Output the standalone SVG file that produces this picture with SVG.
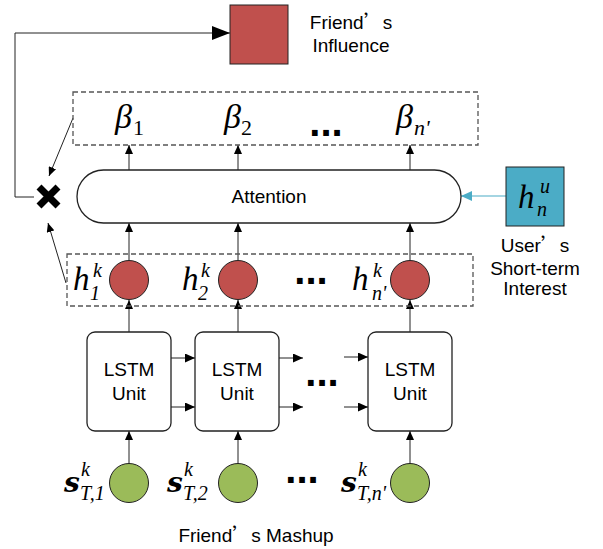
<svg xmlns="http://www.w3.org/2000/svg" width="603" height="549" viewBox="0 0 603 549">
<style>
.lbl{font-family:"Liberation Sans",Arial,sans-serif;font-size:19px;fill:#000;text-anchor:middle}
.cjk{font-family:"Noto Sans CJK SC",sans-serif}
.math{font-family:"Liberation Serif","Times New Roman",serif;font-style:italic;fill:#000}
.rm{font-style:normal}
.sb{font-family:"DejaVu Serif",serif;font-weight:bold;font-style:italic;font-size:28px}
.dash{fill:none;stroke:#555;stroke-width:1.3;stroke-dasharray:5 3}
.box{fill:#fff;stroke:#222;stroke-width:1.3}
.red{fill:#C0504D;stroke:#222;stroke-width:1}
.green{fill:#9BBB59;stroke:#222;stroke-width:1}
.teal{fill:#4BACC6;stroke:#222;stroke-width:1}
.conn{fill:none;stroke:#222;stroke-width:1}
.dots{font-family:"Liberation Sans",Arial,sans-serif;font-weight:bold;font-size:40px;text-anchor:middle;fill:#000}
</style>
<defs>
<marker id="ah" markerUnits="userSpaceOnUse" markerWidth="10" markerHeight="9" refX="10" refY="4.5" orient="auto"><path d="M0,0 L10,4.5 L0,9 z" fill="#000"/></marker>
<marker id="ahs" markerUnits="userSpaceOnUse" markerWidth="9" markerHeight="8" refX="9" refY="4" orient="auto"><path d="M0,0 L9,4 L0,8 z" fill="#000"/></marker>
<marker id="ahBig" markerUnits="userSpaceOnUse" markerWidth="18" markerHeight="14" refX="18" refY="7" orient="auto"><path d="M0,0 L18,7 L0,14 z" fill="#000"/></marker>
<marker id="ahTeal" markerUnits="userSpaceOnUse" markerWidth="11" markerHeight="10" refX="11" refY="5" orient="auto"><path d="M0,0 L11,5 L0,10 z" fill="#4BACC6"/></marker>
</defs>

<g id="connectors">
<path class="conn" d="M34,197 H15 V33 H230" marker-end="url(#ahBig)"/>
<path class="conn" d="M73,118 L49,176" marker-end="url(#ahs)"/>
<path class="conn" d="M66,283 L48,223" marker-end="url(#ahs)"/>
<path class="conn" d="M129,170 V145" marker-end="url(#ahs)"/>
<path class="conn" d="M238,170 V145" marker-end="url(#ahs)"/>
<path class="conn" d="M410,170 V145" marker-end="url(#ahs)"/>
<path class="conn" d="M129,260 V223" marker-end="url(#ahs)"/>
<path class="conn" d="M238,260 V223" marker-end="url(#ahs)"/>
<path class="conn" d="M410,260 V223" marker-end="url(#ahs)"/>
<path class="conn" d="M129,332 V300" marker-end="url(#ahs)"/>
<path class="conn" d="M238,332 V300" marker-end="url(#ahs)"/>
<path class="conn" d="M410,332 V300" marker-end="url(#ahs)"/>
<path class="conn" d="M129,464 V431" marker-end="url(#ahs)"/>
<path class="conn" d="M238,464 V431" marker-end="url(#ahs)"/>
<path class="conn" d="M410,464 V431" marker-end="url(#ahs)"/>
<path class="conn" d="M171,358 H195" marker-end="url(#ah)"/>
<path class="conn" d="M171,407 H195" marker-end="url(#ah)"/>
<path class="conn" d="M279,358 H303" marker-end="url(#ah)"/>
<path class="conn" d="M279,407 H303" marker-end="url(#ah)"/>
<path class="conn" d="M344,357 H368" marker-end="url(#ah)"/>
<path class="conn" d="M344,407 H368" marker-end="url(#ah)"/>
<path d="M506,196 H461" fill="none" stroke="#4BACC6" stroke-width="1.2" marker-end="url(#ahTeal)"/>
</g>

<g id="influence">
<rect class="red" x="230" y="5" width="58" height="59"/>
<text class="lbl" x="351" y="29">Friend<tspan class="cjk">’</tspan>s</text>
<text class="lbl" x="351" y="52">Influence</text>
</g>

<g id="betas">
<rect class="dash" x="73" y="92" width="405" height="53"/>
<text class="math" font-size="34"><tspan x="115" y="128">β</tspan><tspan class="rm" x="133" y="135" font-size="22">1</tspan></text>
<text class="math" font-size="34"><tspan x="224" y="128">β</tspan><tspan class="rm" x="241" y="135" font-size="22">2</tspan></text>
<text class="dots" x="326" y="136">...</text>
<text class="math" font-size="34"><tspan x="396" y="128">β</tspan><tspan x="414" y="135" font-size="22">n'</tspan></text>
</g>

<g id="attention">
<rect class="box" x="77" y="170" width="384" height="53" rx="26.5"/>
<text class="lbl" x="269" y="203">Attention</text>
</g>

<g id="multiply">
<path d="M39,187 L58,206 M58,187 L39,206" stroke="#000" stroke-width="7" fill="none"/>
</g>

<g id="user-interest">
<rect class="teal" x="506" y="167" width="58" height="59"/>
<text class="math" font-size="33"><tspan x="518" y="208">h</tspan><tspan x="540" y="193" font-size="20">u</tspan><tspan x="537" y="216" font-size="20">n</tspan></text>
<text class="lbl" x="535" y="252">User<tspan class="cjk">’</tspan>s</text>
<text class="lbl" x="535" y="275">Short-term</text>
<text class="lbl" x="535" y="295">Interest</text>
</g>

<g id="hidden">
<rect class="dash" x="67" y="254" width="406" height="52"/>
<circle class="red" cx="129" cy="280" r="19.5"/>
<circle class="red" cx="238" cy="280" r="19.5"/>
<circle class="red" cx="410" cy="280" r="19.5"/>
<text class="math" font-size="33"><tspan x="73" y="290">h</tspan><tspan x="93" y="277" font-size="20">k</tspan><tspan x="90" y="300" font-size="20">1</tspan></text>
<text class="math" font-size="33"><tspan x="182" y="290">h</tspan><tspan x="201" y="277" font-size="20">k</tspan><tspan x="198" y="300" font-size="20">2</tspan></text>
<text class="dots" x="311" y="284">...</text>
<text class="math" font-size="33"><tspan x="352" y="290">h</tspan><tspan x="373" y="277" font-size="20">k</tspan><tspan x="372" y="300" font-size="20">n'</tspan></text>
</g>

<g id="lstm1">
<rect class="box" x="87" y="332" width="84" height="99" rx="8"/>
<text class="lbl" x="129" y="376">LSTM</text>
<text class="lbl" x="129" y="400">Unit</text>
</g>
<g id="lstm2">
<rect class="box" x="195" y="332" width="84" height="99" rx="8"/>
<text class="lbl" x="237" y="376">LSTM</text>
<text class="lbl" x="237" y="400">Unit</text>
</g>
<text class="dots" x="322" y="386">...</text>
<g id="lstm3">
<rect class="box" x="368" y="332" width="84" height="99" rx="8"/>
<text class="lbl" x="410" y="376">LSTM</text>
<text class="lbl" x="410" y="400">Unit</text>
</g>

<g id="inputs">
<circle class="green" cx="129" cy="483" r="19.5"/>
<circle class="green" cx="238" cy="483" r="19.5"/>
<circle class="green" cx="410" cy="483" r="19.5"/>
<text class="math" font-size="20"><tspan class="sb" x="64" y="492">s</tspan><tspan x="81" y="476">k</tspan><tspan x="80" y="500">T,1</tspan></text>
<text class="math" font-size="20"><tspan class="sb" x="167" y="492">s</tspan><tspan x="184" y="476">k</tspan><tspan x="183" y="500">T,2</tspan></text>
<text class="dots" x="302" y="483">...</text>
<text class="math" font-size="20"><tspan class="sb" x="341" y="492">s</tspan><tspan x="358" y="476">k</tspan><tspan x="357" y="500">T,n'</tspan></text>
<text class="lbl" x="256" y="542">Friend<tspan class="cjk">’</tspan>s Mashup</text>
</g>
</svg>
